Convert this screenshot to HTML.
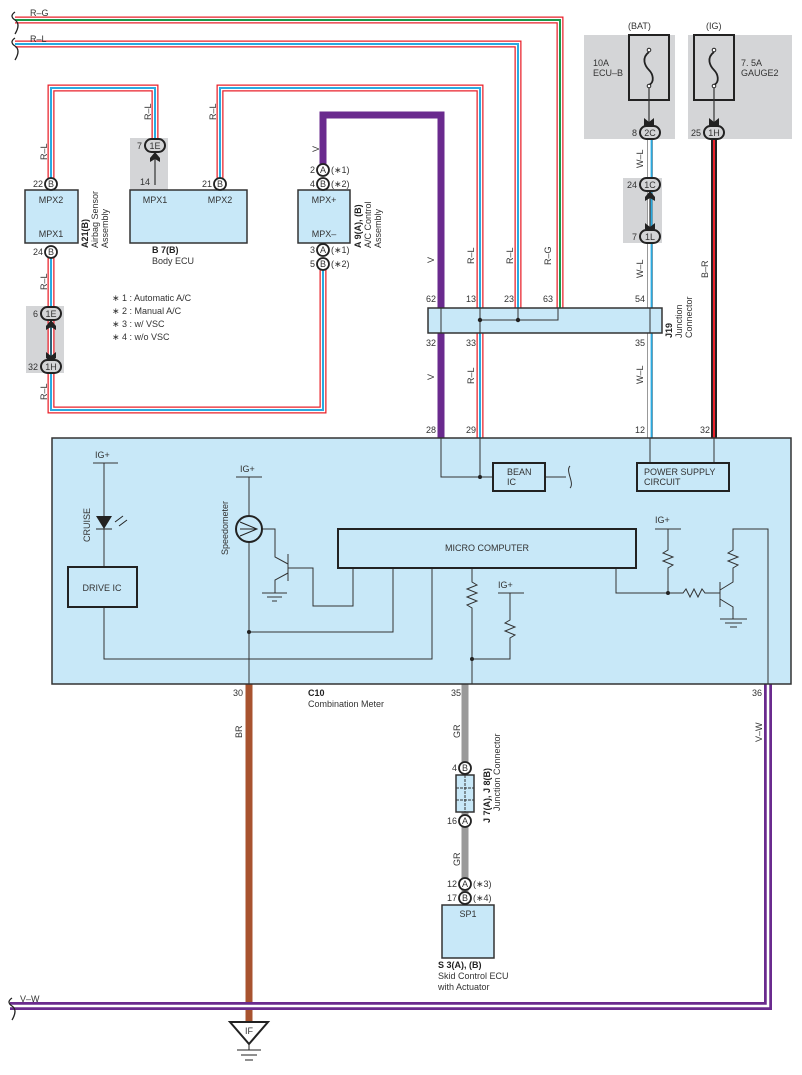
<!DOCTYPE html>
<html><head><meta charset="utf-8"><style>
html,body{margin:0;padding:0;background:#fff;}
svg{display:block;font-family:"Liberation Sans",sans-serif;}
text{font-size:9px;fill:#333;}
.b{font-weight:bold;fill:#222;}
</style></head><body>
<svg width="802" height="1075" viewBox="0 0 802 1075" xmlns="http://www.w3.org/2000/svg">
<g fill="#d4d5d7">
<rect x="26" y="306" width="38" height="67"/>
<rect x="130" y="138" width="38" height="52"/>
<rect x="584" y="35" width="91" height="104"/>
<rect x="688" y="35" width="104" height="104"/>
<rect x="623" y="178" width="39" height="65"/>
</g>
<g fill="none" stroke-linejoin="miter">
<g stroke="#e8202a" stroke-width="7">
<path d="M15,20 H560 V308"/><path d="M15,44 H518 V308"/><path d="M220,183 V88 H480 V438"/>
<path d="M51,183 V88 H155 V140"/><path d="M51,258 V410 H323 V268"/>
</g>
<g stroke="#fff" stroke-width="4.5">
<path d="M15,20 H560 V308"/><path d="M15,44 H518 V308"/><path d="M220,183 V88 H480 V438"/>
<path d="M51,183 V88 H155 V140"/><path d="M51,258 V410 H323 V268"/>
</g>
<path d="M15,20 H560 V308" stroke="#1a9a4a" stroke-width="2"/>
<g stroke="#29aae1" stroke-width="2">
<path d="M15,44 H518 V308"/><path d="M220,183 V88 H480 V438"/>
<path d="M51,183 V88 H155 V140"/><path d="M51,258 V410 H323 V268"/>
</g>
<path d="M323,165 V115 H441 V438" stroke="#6a2a8e" stroke-width="7"/>
<path d="M650,139 V438" stroke="#999" stroke-width="6"/>
<path d="M650,139 V438" stroke="#fff" stroke-width="4"/>
<path d="M651.5,139 V438" stroke="#29aae1" stroke-width="1.8"/>
<path d="M714,139 V438" stroke="#222" stroke-width="6"/>
<path d="M714,139 V438" stroke="#e8202a" stroke-width="2"/>
<path d="M249,684 V1022" stroke="#a8532f" stroke-width="7"/>
<path d="M465,684 V900" stroke="#9a9a9a" stroke-width="7"/>
<path d="M10,1006 H768 V684" stroke="#6a2a8e" stroke-width="8"/>
<path d="M10,1006 H768 V684" stroke="#fff" stroke-width="2.5"/>
</g>
<g fill="none" stroke="#222" stroke-width="1.3">
<path d="M15,12 q-6,4 0,8 q6,4 0,14"/>
<path d="M15,38 q-6,4 0,8 q6,4 0,14"/>
<path d="M12,998 q-6,4 0,8 q6,4 0,14"/>
</g>
<text x="30" y="16">R–G</text><text x="30" y="42">R–L</text><text x="20" y="1002">V–W</text>
<g fill="#c8e8f8" stroke="#333" stroke-width="1.5">
<rect x="25" y="190" width="53" height="53"/>
<rect x="130" y="190" width="117" height="53"/>
<rect x="298" y="190" width="52" height="53"/>
<rect x="428" y="308" width="234" height="25"/>
<rect x="52" y="438" width="739" height="246"/>
<rect x="442" y="905" width="52" height="53"/>
<rect x="456" y="775" width="18" height="37"/>
</g>
<g stroke="#333" stroke-width="1" fill="none">
<path d="M441,308 V333 M480,308 V333 M480,320 H558 V308 M518,308 V320 M650,308 V333"/>
<path d="M465,775 V812 M456,788 H474 M456,800 H474" stroke-dasharray="3,1"/>
</g>
<g fill="#222"><circle cx="480" cy="320" r="2.2"/><circle cx="518" cy="320" r="2.2"/></g>
<g fill="none" stroke="#222" stroke-width="2">
<rect x="629" y="35" width="40" height="65"/><rect x="694" y="35" width="40" height="65"/>
</g>
<g fill="none" stroke="#222" stroke-width="1.8">
<path d="M649,52 c-8,6 -4,14 0,18 c4,4 6,12 0,15 M714,52 c-8,6 -4,14 0,18 c4,4 6,12 0,15"/>
</g>
<g fill="#fff" stroke="#222" stroke-width="1"><circle cx="649" cy="50" r="1.8"/><circle cx="649" cy="86" r="1.8"/><circle cx="714" cy="50" r="1.8"/><circle cx="714" cy="86" r="1.8"/></g>
<g fill="none" stroke="#333" stroke-width="1.2">
<path d="M649,88 V125 M714,88 V125 M650,186 V236 M155,148 V185 M51,316 V366"/>
</g>
<g fill="#222">
<path d="M644,118 l5,4 l5,-4 v8 l-5,4 l-5,-4z"/><path d="M709,118 l5,4 l5,-4 v8 l-5,4 l-5,-4z"/>
<path d="M645,197 l5,-6 l5,6 v4 l-5,-3 l-5,3z"/><path d="M645,223 l5,4 l5,-4 v6 l-5,4 l-5,-4z"/>
<path d="M150,158 l5,-6 l5,6 v4 l-5,-3 l-5,3z"/>
<path d="M46,326 l5,-6 l5,6 v4 l-5,-3 l-5,3z"/><path d="M46,352 l5,4 l5,-4 v6 l-5,4 l-5,-4z"/>
</g>
<text x="628" y="29">(BAT)</text><text x="706" y="29">(IG)</text>
<text x="593" y="66">10A</text><text x="593" y="76">ECU–B</text>
<text x="741" y="66">7. 5A</text><text x="741" y="76">GAUGE2</text>
<g fill="#d4d5d7" stroke="#222" stroke-width="2">
<rect x="640" y="126" width="20" height="13" rx="6.5"/><rect x="704" y="126" width="20" height="13" rx="6.5"/>
<rect x="640" y="178" width="20" height="13" rx="6.5"/><rect x="640" y="230" width="20" height="13" rx="6.5"/>
<rect x="145" y="139" width="20" height="13" rx="6.5"/>
<rect x="41" y="307" width="20" height="13" rx="6.5"/><rect x="41" y="360" width="20" height="13" rx="6.5"/>
</g>
<g text-anchor="middle">
<text x="650" y="136">2C</text><text x="714" y="136">1H</text><text x="650" y="188">1C</text><text x="650" y="240">1L</text>
<text x="155" y="149">1E</text><text x="51" y="317">1E</text><text x="51" y="370">1H</text>
</g>
<g text-anchor="end"><text x="637" y="136">8</text><text x="701" y="136">25</text><text x="637" y="188">24</text><text x="637" y="240">7</text>
<text x="142" y="149">7</text><text x="38" y="317">6</text><text x="38" y="370">32</text></g>
<g fill="#fff" stroke="#222" stroke-width="1.8">
<circle cx="51" cy="184" r="6"/><circle cx="51" cy="252" r="6"/><circle cx="220" cy="184" r="6"/>
<circle cx="323" cy="170" r="6"/><circle cx="323" cy="184" r="6"/><circle cx="323" cy="250" r="6"/><circle cx="323" cy="264" r="6"/>
<circle cx="465" cy="768" r="6"/><circle cx="465" cy="821" r="6"/><circle cx="465" cy="884" r="6"/><circle cx="465" cy="898" r="6"/>
</g>
<g text-anchor="middle" font-size="8">
<text x="51" y="187">B</text><text x="51" y="255">B</text><text x="220" y="187">B</text>
<text x="323" y="173">A</text><text x="323" y="187">B</text><text x="323" y="253">A</text><text x="323" y="267">B</text>
<text x="465" y="771">B</text><text x="465" y="824">A</text><text x="465" y="887">A</text><text x="465" y="901">B</text>
</g>
<g text-anchor="end"><text x="43" y="187">22</text><text x="43" y="255">24</text><text x="212" y="187">21</text>
<text x="315" y="173">2</text><text x="315" y="187">4</text><text x="315" y="253">3</text><text x="315" y="267">5</text>
<text x="457" y="771">4</text><text x="457" y="824">16</text><text x="457" y="887">12</text><text x="457" y="901">17</text>
<text x="150" y="185">14</text></g>
<text x="331" y="173">(∗1)</text><text x="331" y="187">(∗2)</text><text x="331" y="253">(∗1)</text><text x="331" y="267">(∗2)</text>
<text x="473" y="887">(∗3)</text><text x="473" y="901">(∗4)</text>
<g text-anchor="middle"><text x="51" y="203">MPX2</text><text x="51" y="237">MPX1</text>
<text x="155" y="203">MPX1</text><text x="220" y="203">MPX2</text>
<text x="324" y="203">MPX+</text><text x="324" y="237">MPX–</text><text x="468" y="917">SP1</text></g>
<text x="152" y="253" class="b">B 7(B)</text><text x="152" y="264">Body ECU</text>
<g transform="translate(88,248) rotate(-90)"><text class="b">A21(B)</text><text y="10">Airbag Sensor</text><text y="20">Assembly</text></g>
<g transform="translate(361,248) rotate(-90)"><text class="b">A 9(A), (B)</text><text y="10">A/C Control</text><text y="20">Assembly</text></g>
<g transform="translate(672,338) rotate(-90)"><text class="b">J19</text><text y="10">Junction</text><text y="20">Connector</text></g>
<g transform="translate(490,823) rotate(-90)"><text class="b">J 7(A), J 8(B)</text><text x="12" y="10">Junction Connector</text></g>
<text x="438" y="968" class="b">S 3(A), (B)</text><text x="438" y="979">Skid Control ECU</text><text x="438" y="990">with Actuator</text>
<text x="308" y="696" class="b">C10</text><text x="308" y="707">Combination Meter</text>
<text x="112" y="301">∗ 1 : Automatic A/C</text><text x="112" y="314">∗ 2 : Manual A/C</text>
<text x="112" y="327">∗ 3 : w/ VSC</text><text x="112" y="340">∗ 4 : w/o VSC</text>
<text x="426" y="302">62</text><text x="466" y="302">13</text><text x="504" y="302">23</text><text x="543" y="302">63</text><text x="635" y="302">54</text>
<text x="426" y="346">32</text><text x="466" y="346">33</text><text x="635" y="346">35</text>
<text x="426" y="433">28</text><text x="466" y="433">29</text><text x="635" y="433">12</text><text x="700" y="433">32</text>
<text x="233" y="696">30</text><text x="451" y="696">35</text><text x="752" y="696">36</text>
<g>
<text transform="translate(47,160) rotate(-90)">R–L</text><text transform="translate(151,120) rotate(-90)">R–L</text>
<text transform="translate(216,120) rotate(-90)">R–L</text><text transform="translate(319,152) rotate(-90)">V</text>
<text transform="translate(47,290) rotate(-90)">R–L</text><text transform="translate(47,400) rotate(-90)">R–L</text>
<text transform="translate(434,263) rotate(-90)">V</text><text transform="translate(474,264) rotate(-90)">R–L</text>
<text transform="translate(513,264) rotate(-90)">R–L</text><text transform="translate(551,265) rotate(-90)">R–G</text>
<text transform="translate(643,278) rotate(-90)">W–L</text><text transform="translate(643,168) rotate(-90)">W–L</text>
<text transform="translate(708,278) rotate(-90)">B–R</text>
<text transform="translate(434,380) rotate(-90)">V</text><text transform="translate(474,384) rotate(-90)">R–L</text>
<text transform="translate(643,384) rotate(-90)">W–L</text>
<text transform="translate(242,738) rotate(-90)">BR</text><text transform="translate(460,738) rotate(-90)">GR</text>
<text transform="translate(460,866) rotate(-90)">GR</text><text transform="translate(762,742) rotate(-90)">V–W</text>
</g>
<g fill="none" stroke="#333" stroke-width="1">
<path d="M441,438 V477 H493 M480,438 V477"/>
<path d="M545,477 H566 M570,466 c-5,5 5,17 0,22"/>
<path d="M650,438 V462 M714,438 V462"/>
<path d="M93,463 H118 M104,463 V567 M104,607 V659 H432 V568"/>
<path d="M236,477 H262 M249,477 V516 M249,542 V684 M249,632 H393 V568"/>
<path d="M262,529 H275 V557 L288,564 M288,554 V581 M288,573 L275,580 V593 M262,593 H287 M267,597 H282 M272,601 H277"/>
<path d="M288,568 H313 V606 H353 V568"/>
<path d="M472,568 V582 l5,3 l-10,4 l10,4 l-10,4 l10,4 l-10,4 l5,3 V684 M472,659 H510 V638 l5,-3 l-10,-4 l10,-4 l-10,-4 l5,-3 V593 M498,593 H524"/>
<path d="M616,568 V593 H683 l3,-4 l4,8 l4,-8 l4,8 l4,-8 l3,4 H720 M720,582 V607 M668,593 V568 l5,-3 l-10,-4 l10,-4 l-10,-4 l5,-3 V529 M655,529 H681"/>
<path d="M720,590 L733,582 V568 l5,-3 l-10,-4 l10,-4 l-10,-4 l5,-3 V529 H768 V684"/>
<path d="M720,599 L733,607 V619 M720,619 H747 M725,623 H742 M730,627 H737"/>
</g>
<g fill="none" stroke="#222" stroke-width="2">
<rect x="493" y="463" width="52" height="28"/><rect x="637" y="463" width="92" height="28"/>
<rect x="68" y="567" width="69" height="40"/><rect x="338" y="529" width="298" height="39"/>
</g>
<circle cx="249" cy="529" r="13" fill="none" stroke="#222" stroke-width="2"/>
<path d="M240,522 L257,529 L240,536 M257,529 L240,529" fill="none" stroke="#222" stroke-width="1"/>
<path d="M96,516 H112 L104,529 Z" fill="#222"/><path d="M96,529 H112" stroke="#222"/>
<path d="M115,522 l8,-6 M119,526 l8,-6" stroke="#222"/>
<g fill="#222"><circle cx="480" cy="477" r="2"/><circle cx="249" cy="632" r="2"/><circle cx="472" cy="659" r="2"/><circle cx="668" cy="593" r="2"/></g>
<text x="95" y="458">IG+</text><text x="240" y="472">IG+</text><text x="498" y="588">IG+</text><text x="655" y="523">IG+</text>
<text transform="translate(90,542) rotate(-90)">CRUISE</text>
<text transform="translate(228,555) rotate(-90)">Speedometer</text>
<text x="102" y="591" text-anchor="middle">DRIVE IC</text>
<text x="487" y="551" text-anchor="middle">MICRO COMPUTER</text>
<text x="507" y="475">BEAN</text><text x="507" y="485">IC</text>
<text x="644" y="475">POWER SUPPLY</text><text x="644" y="485">CIRCUIT</text>
<path d="M230,1022 H268 L249,1044 Z" fill="#fff" stroke="#222" stroke-width="2"/>
<text x="249" y="1034" text-anchor="middle">IF</text>
<path d="M249,1044 V1050 M237,1050 H261 M241,1055 H257 M245,1060 H253" stroke="#222" fill="none"/>
</svg>
</body></html>
